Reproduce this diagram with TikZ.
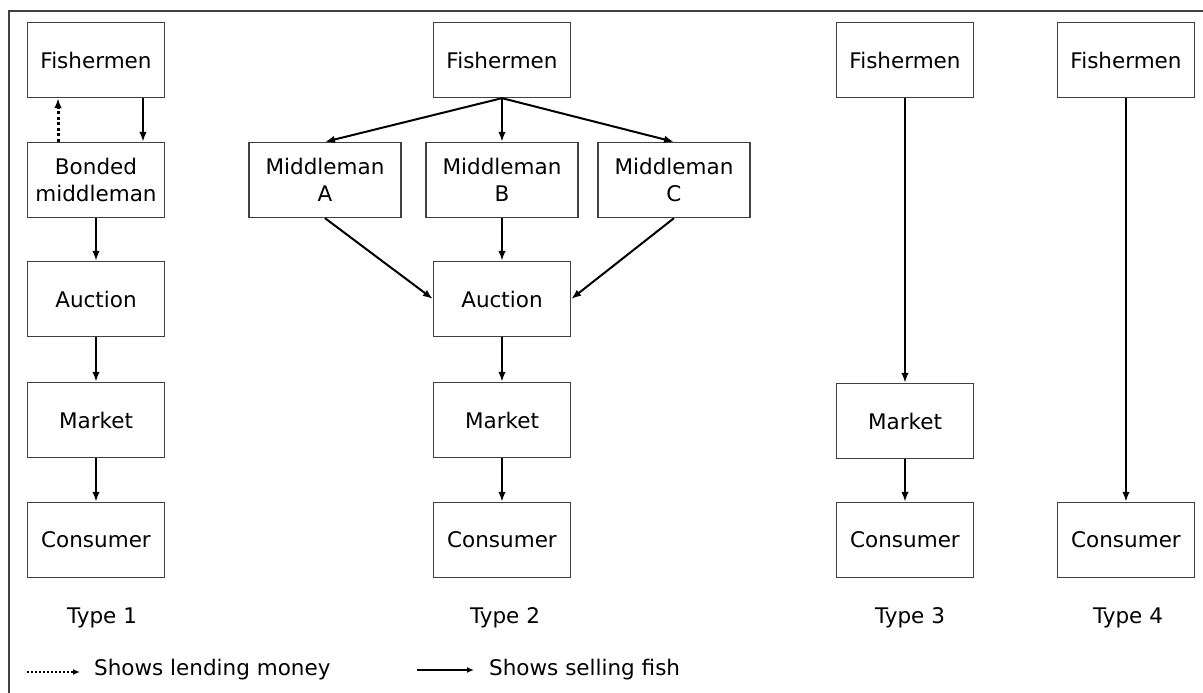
\documentclass[tikz,border=0pt]{standalone}
\usepackage{fontspec}
\setmainfont{DejaVu Sans}
\usetikzlibrary{arrows.meta}

\begin{document}
\begin{tikzpicture}[x=1pt, y=-1pt,
    font=\fontsize{21.5}{27}\selectfont,
    >={Latex[length=10pt,width=7.5pt]},
    box/.style={draw=black!75, line width=1.3pt, minimum width=137pt,
                minimum height=75pt, align=center, inner sep=2pt},
    midbox/.style={box, minimum width=152pt},
    sell/.style={->, line width=2pt},
    lend/.style={->, line width=3pt, dash pattern=on 3pt off 2.5pt}]
  \useasboundingbox (0,0) rectangle (1203,693);
  % outer frame (cut by the page on the right and below)
  \draw[black!75, line width=1.3pt] (1203,11) -- (9,11) -- (9,693);

  % Type 1
  \node[box] (f1) at (96,60)  {Fishermen};
  \node[box] (b1) at (96,180) {Bonded\\middleman};
  \node[box] (a1) at (96,299) {Auction};
  \node[box] (m1) at (96,420) {Market};
  \node[box] (c1) at (96,540) {Consumer};
  \node (t1) at (102,618) {Type 1};
  \draw[sell] ([xshift=47pt]f1.south) -- ([xshift=47pt]b1.north);
  \draw[lend] ([xshift=-38pt]b1.north) -- ([xshift=-38pt]f1.south);
  \draw[sell] (b1) -- (a1);
  \draw[sell] (a1) -- (m1);
  \draw[sell] (m1) -- (c1);

  % Type 2
  \node[box]    (f2) at (502,60)  {Fishermen};
  \node[midbox] (ma) at (325,180) {Middleman\\A};
  \node[midbox] (mb) at (502,180) {Middleman\\B};
  \node[midbox] (mc) at (674,180) {Middleman\\C};
  \node[box]    (a2) at (502,299) {Auction};
  \node[box]    (m2) at (502,420) {Market};
  \node[box]    (c2) at (502,540) {Consumer};
  \node (t2) at (505,618) {Type 2};
  \draw[sell] (f2.south) -- (ma.north);
  \draw[sell] (f2.south) -- (mb.north);
  \draw[sell] (f2.south) -- (mc.north);
  \draw[sell] (ma.south) -- (a2.west);
  \draw[sell] (mb.south) -- (a2.north);
  \draw[sell] (mc.south) -- (a2.east);
  \draw[sell] (a2) -- (m2);
  \draw[sell] (m2) -- (c2);

  % Type 3
  \node[box] (f3) at (905,60)  {Fishermen};
  \node[box] (m3) at (905,421) {Market};
  \node[box] (c3) at (905,540) {Consumer};
  \node (t3) at (910,618) {Type 3};
  \draw[sell] (f3) -- (m3);
  \draw[sell] (m3) -- (c3);

  % Type 4
  \node[box] (f4) at (1126,60)  {Fishermen};
  \node[box] (c4) at (1126,540) {Consumer};
  \node (t4) at (1128,618) {Type 4};
  \draw[sell] (f4) -- (c4);

  % legend
  \coordinate (lendstart) at (27,672);
  \node[anchor=west, inner sep=0pt] (lendtxt) at (94,670) {Shows lending money};
  \draw[lend, line width=2.2pt, dash pattern=on 2pt off 2pt, >={Latex[length=7pt,width=6pt]}]
      (lendstart) -- ([xshift=-14pt]lendtxt.west |- lendstart);
  \coordinate (sellstart) at (417,670);
  \node[anchor=west, inner sep=0pt] (selltxt) at (489,670) {Shows selling fish};
  \draw[sell, >={Latex[length=7pt,width=6pt]}] (sellstart) -- ([xshift=-15pt]selltxt.west);
\end{tikzpicture}
\end{document}
